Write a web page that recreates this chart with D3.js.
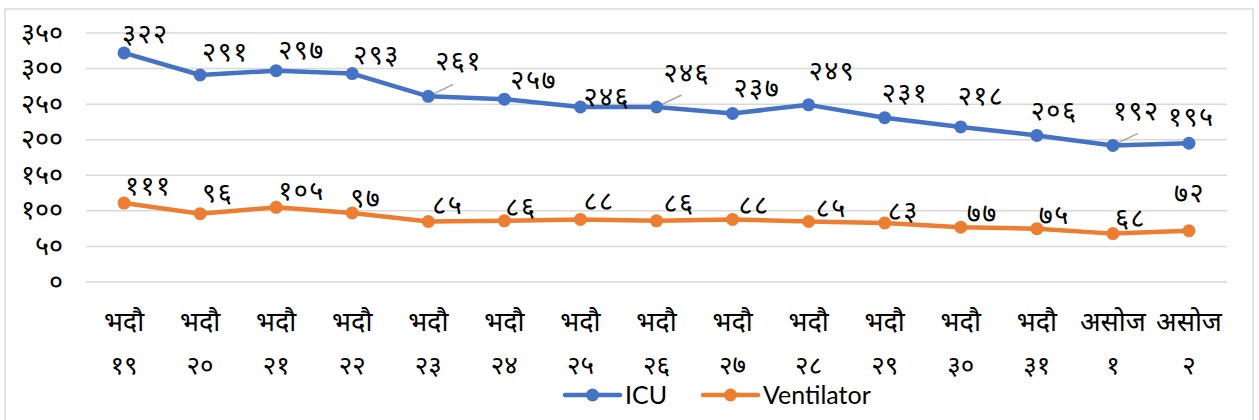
<!DOCTYPE html>
<html>
<head>
<meta charset="utf-8">
<script src="https://cdn.jsdelivr.net/npm/d3@7"></script>
<style>
  body { margin: 0; background: #fff; }
  text { font-family: "Noto Sans", "Nirmala UI", sans-serif; fill: #000; }
  .legend text { font-family: Lato, "Open Sans", sans-serif; }
</style>
</head>
<body>
<div id="chart"></div>
<script>
// chart data
let months = ["भदौ","भदौ","भदौ","भदौ","भदौ","भदौ","भदौ","भदौ","भदौ","भदौ","भदौ","भदौ","भदौ","असोज","असोज"];
let days = ["१९","२०","२१","२२","२३","२४","२५","२६","२७","२८","२९","३०","३१","१","२"];
let icu = [322, 291, 297, 293, 261, 257, 246, 246, 237, 249, 231, 218, 206, 192, 195];
let ventilator = [111, 96, 105, 97, 85, 86, 88, 86, 88, 85, 83, 77, 75, 68, 72];
let yTicks = [0, 50, 100, 150, 200, 250, 300, 350];

// label nudges (left edge dx, centre dy from the point); third item = callout line
let icuNudge = [[-2,-19],[2,-23],[2,-20],[1,-18],[7,-35,1],[6,-19],[3,-10],[7,-34,1],
                [1,-25],[0,-33],[-3,-24],[-3,-31],[-6,-24],[0,-34,1],[-21,-26]];
let ventNudge = [[1,-17],[2,-20],[2,-16],[-2,-15],[4,-16],[1,-13],[3,-18],[7,-17],
                 [6,-14],[7,-13],[3,-12],[6,-14],[2,-13],[2,-15],[-15,-37]];

// convert arabic digits to devanagari
const nepDigits = "०१२३४५६७८९";
function toNep(n) {
  return String(n).replace(/[0-9]/g, (c) => nepDigits[+c]);
}

let width = 1259, height = 420;
let svg = d3.select("#chart").append("svg")
  .attr("width", width).attr("height", height);

// outer chart border
svg.append("rect")
  .attr("x", 5).attr("y", 9)
  .attr("width", 1248).attr("height", 420)
  .attr("fill", "none").attr("stroke", "#d9d9d9").attr("stroke-width", 1.5);

let xScale = d3.scalePoint()
  .domain(d3.range(months.length))
  .range([86, 1227])
  .padding(0.5);

let yScale = d3.scaleLinear()
  .domain([0, 350])
  .range([282, 33]);

// gridlines
svg.append("g").selectAll("line")
  .data(yTicks).enter().append("line")
  .attr("x1", 86).attr("x2", 1227)
  .attr("y1", (d) => yScale(d)).attr("y2", (d) => yScale(d))
  .attr("stroke", "#d9d9d9").attr("stroke-width", 1.5);

// y axis labels
svg.append("g").selectAll("text")
  .data(yTicks).enter().append("text")
  .attr("x", 63).attr("y", (d) => yScale(d))
  .attr("dy", "0.32em")
  .attr("text-anchor", "end")
  .style("font-size", "27px")
  .text((d) => toNep(d));

// x axis labels, two lines
let xl = svg.append("g");
xl.selectAll("text.month")
  .data(months).enter().append("text")
  .attr("class", "month")
  .attr("x", (d, i) => xScale(i)).attr("y", 331)
  .attr("text-anchor", "middle")
  .style("font-size", "27px")
  .text((d) => d);
xl.selectAll("text.day")
  .data(days).enter().append("text")
  .attr("class", "day")
  .attr("x", (d, i) => xScale(i)).attr("y", 374)
  .attr("text-anchor", "middle")
  .style("font-size", "26px")
  .text((d) => d);

let series = [
  {name: "ICU", values: icu, color: "#4472C4", nudge: icuNudge},
  {name: "Ventilator", values: ventilator, color: "#ED7D31", nudge: ventNudge}
];

let line = d3.line()
  .x((d, i) => xScale(i))
  .y((d) => yScale(d));

series.forEach(function(s) {
  let g = svg.append("g");
  g.append("path")
    .attr("d", line(s.values))
    .attr("fill", "none")
    .attr("stroke", s.color)
    .attr("stroke-width", 4.5)
    .attr("stroke-linejoin", "round");

  // callout lines for moved labels
  g.selectAll("line.leader")
    .data(s.values.map((v, i) => [v, i]).filter((p) => s.nudge[p[1]][2]))
    .enter().append("line")
    .attr("x1", (p) => xScale(p[1])).attr("y1", (p) => yScale(p[0]))
    .attr("x2", (p) => xScale(p[1]) + 25).attr("y2", (p) => yScale(p[0]) - 12)
    .attr("stroke", "#a6a6a6").attr("stroke-width", 1.5);

  g.selectAll("circle")
    .data(s.values).enter().append("circle")
    .attr("cx", (d, i) => xScale(i))
    .attr("cy", (d) => yScale(d))
    .attr("r", 6.5)
    .attr("fill", s.color);

  g.selectAll("text")
    .data(s.values).enter().append("text")
    .attr("x", (d, i) => xScale(i) + s.nudge[i][0])
    .attr("y", (d, i) => yScale(d) + s.nudge[i][1])
    .attr("dy", "0.32em")
    .style("font-size", "27px")
    .style("letter-spacing", "1.5px")
    .text((d) => toNep(d));
});

// legend
let legend = svg.append("g").attr("class", "legend");
let legendX = [565, 703];
series.forEach(function(s, i) {
  let lx = legendX[i];
  legend.append("line")
    .attr("x1", lx).attr("x2", lx + 55)
    .attr("y1", 395).attr("y2", 395)
    .attr("stroke", s.color).attr("stroke-width", 4.5)
    .attr("stroke-linecap", "round");
  legend.append("circle")
    .attr("cx", lx + 27.5).attr("cy", 395).attr("r", 6.5)
    .attr("fill", s.color);
  legend.append("text")
    .attr("x", lx + 60).attr("y", 395)
    .attr("dy", "0.35em")
    .style("font-size", "25px")
    .text(s.name);
});
</script>
</body>
</html>
